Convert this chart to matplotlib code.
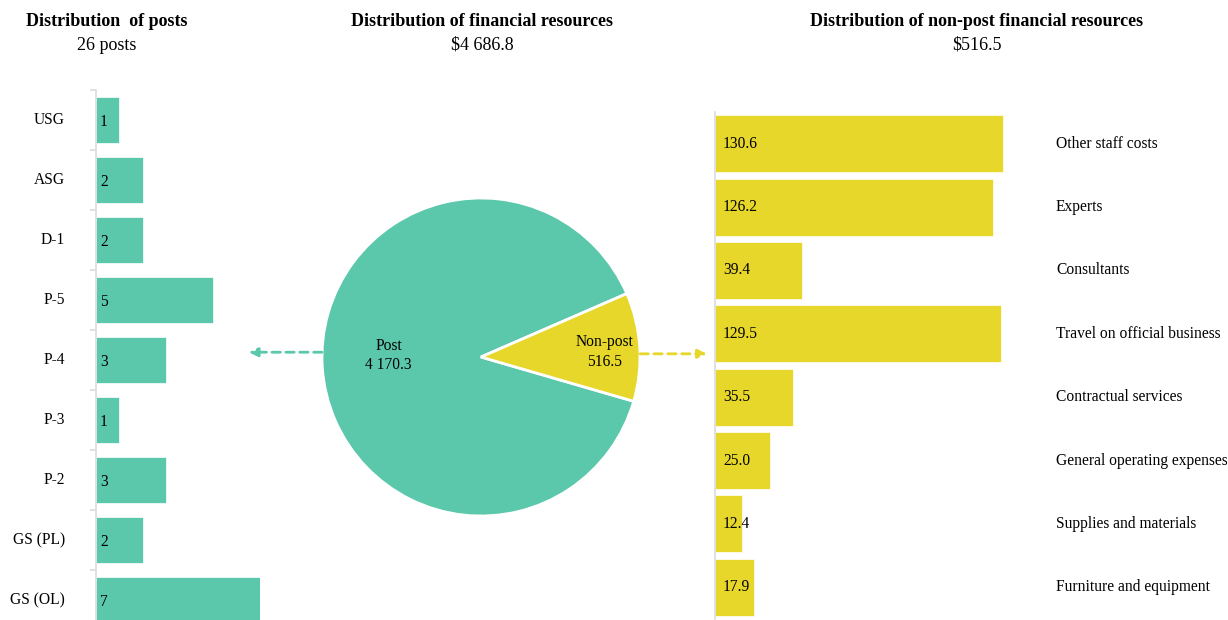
import matplotlib
matplotlib.use("Agg")
import matplotlib.pyplot as plt

plt.rcParams["font.family"] = ["Liberation Serif", "DejaVu Serif"]

# Posts by grade
grades = ["USG", "ASG", "D-1", "P-5", "P-4", "P-3", "P-2", "GS (PL)", "GS (OL)"]
posts = [1, 2, 2, 5, 3, 1, 3, 2, 7]

# Financial resources (thousands of US dollars)
resource_labels = ["Post", "Non-post"]
resource_values = [4170.3, 516.5]

# Non-post breakdown
nonpost_items = ["Other staff costs", "Experts", "Consultants",
                 "Travel on official business", "Contractual services",
                 "General operating expenses", "Supplies and materials",
                 "Furniture and equipment"]
nonpost_values = [130.6, 126.2, 39.4, 129.5, 35.5, 25.0, 12.4, 17.9]

GREEN = "#5BC8AC"
YELLOW = "#E6D72A"
SPINE = "#dcdcdc"
W, H = 1228, 620
FS = 11.2

fig = plt.figure(figsize=(W / 100, H / 100), dpi=100)


def px_axes(x0, y0, x1, y1):
    """Axes from pixel box (top-left origin)."""
    return fig.add_axes([x0 / W, (H - y1) / H, (x1 - x0) / W, (y1 - y0) / H])


def fmt(v):
    return f"{v:,.1f}".replace(",", " ")


# ---- Left: posts ----
axl = px_axes(96, 90, 260, 630)
ypos = range(len(grades))
axl.barh(ypos, posts, height=0.77, color=GREEN, edgecolor="white", linewidth=0.5)
axl.set_xlim(0, 7)
axl.set_ylim(len(grades) - 0.5, -0.5)
for s in ["top", "right", "bottom"]:
    axl.spines[s].set_visible(False)
axl.spines["left"].set_color(SPINE)
axl.spines["left"].set_linewidth(1.2)
axl.set_xticks([])
axl.set_yticks([i - 0.5 for i in range(len(grades) + 1)])
axl.set_yticklabels([])
axl.tick_params(axis="y", length=4, color=SPINE, width=1.2)
for i, (g, v) in enumerate(zip(grades, posts)):
    axl.annotate(g, xy=(0, i), xycoords=("axes fraction", "data"),
                 xytext=(-31, 0), textcoords="offset pixels",
                 ha="right", va="center", fontsize=FS, annotation_clip=False)
    axl.text(0.17, i + 0.03, str(v), ha="left", va="center", fontsize=FS)

# ---- Middle: pie ----
r = 159
axp = px_axes(481 - r, 357 - r, 481 + r, 357 + r)
total = sum(resource_values)
start = 23.5 - 360 * resource_values[1] / total
axp.pie(resource_values, colors=[GREEN, YELLOW], startangle=start,
        counterclock=False, radius=1,
        wedgeprops=dict(edgecolor="white", linewidth=2))
axp.set_xlim(-1, 1)
axp.set_ylim(-1, 1)
axp.set_aspect("equal")
axp.text(-0.58, 0.01, f"{resource_labels[0]}\n{fmt(resource_values[0])}",
         ha="center", va="center", fontsize=FS, linespacing=1.3)
axp.text(0.775, 0.03, f"{resource_labels[1]}\n{fmt(resource_values[1])}",
         ha="center", va="center", fontsize=FS, linespacing=1.3)
axp.annotate("", xy=(-1.46, 0.03), xytext=(-1.0, 0.03), annotation_clip=False,
             arrowprops=dict(arrowstyle="-|>", color=GREEN, lw=2, ls=(0, (3, 2)),
                             mutation_scale=13, shrinkA=0, shrinkB=0))
axp.annotate("", xy=(1.42, 0.02), xytext=(1.0, 0.02), annotation_clip=False,
             arrowprops=dict(arrowstyle="-|>", color=YELLOW, lw=2, ls=(0, (3, 2)),
                             mutation_scale=13, shrinkA=0, shrinkB=0))

# ---- Right: non-post ----
xmax = 140
axr = px_axes(715, 112, 715 + xmax * 288 / 130.6, 619)
rpos = range(len(nonpost_items))
axr.barh(rpos, nonpost_values, height=0.9, color=YELLOW, edgecolor="white", linewidth=0.5)
axr.set_xlim(0, xmax)
axr.set_ylim(len(nonpost_items) - 0.5, -0.5)
for s in ["top", "right", "bottom"]:
    axr.spines[s].set_visible(False)
axr.spines["left"].set_color(SPINE)
axr.spines["left"].set_linewidth(1.2)
axr.set_xticks([])
axr.set_yticks([])
for i, (lab, v) in enumerate(zip(nonpost_items, nonpost_values)):
    axr.text(3.6, i, f"{v:.1f}", ha="left", va="center", fontsize=FS)
    axr.annotate(lab, xy=(0, i), xycoords=("axes fraction", "data"),
                 xytext=(1056 - 715, 0), textcoords="offset pixels",
                 ha="left", va="center", fontsize=FS, annotation_clip=False)

# ---- Titles ----
titles = [(107, "Distribution  of posts", f"{sum(posts)} posts"),
          (482, "Distribution of financial resources", f"${fmt(total)}"),
          (977, "Distribution of non-post financial resources",
           f"${fmt(resource_values[1])}")]
for x, t, sub in titles:
    fig.text(x / W, 1 - 22 / H, t, ha="center", va="center", fontsize=13,
             fontweight="bold")
    fig.text(x / W, 1 - 45 / H, sub, ha="center", va="center", fontsize=13)

fig.savefig("out.png", dpi=100, facecolor="white")
